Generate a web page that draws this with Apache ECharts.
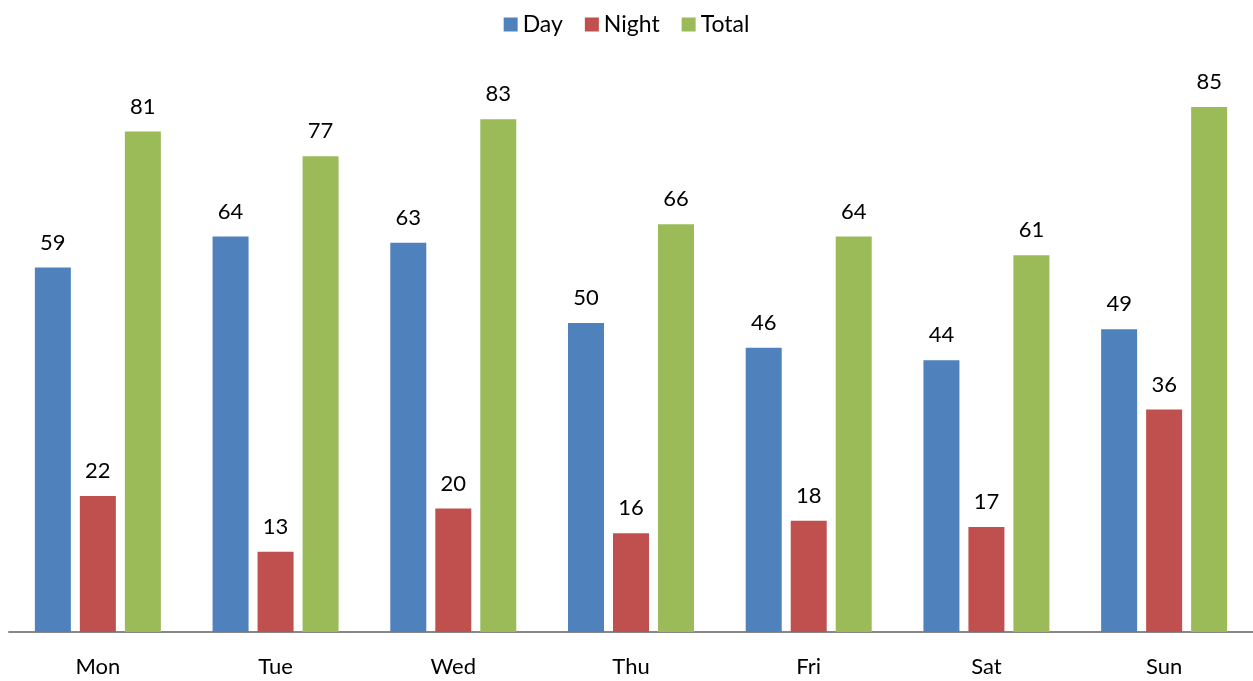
<!DOCTYPE html>
<html><head><meta charset="utf-8">
<script src="https://cdn.jsdelivr.net/npm/echarts@6/dist/echarts.min.js"></script>
<style>html,body{margin:0;padding:0;background:#fff}#c{width:1253px;height:681px}</style>
</head><body><div id="c"></div>
<script>
const categories = ['Mon','Tue','Wed','Thu','Fri','Sat','Sun'];
const daySeries = [59,64,63,50,46,44,49];
const nightSeries = [22,13,20,16,18,17,36];
const totalSeries = [81,77,83,66,64,61,85];
const colors = ['#4F81BD','#C0504D','#9BBB59'];
const font = 'Lato, "Open Sans", sans-serif';
const chart = echarts.init(document.getElementById('c'));
const lbl = {show:true, position:'top', distance:14, color:'#000', fontSize:22, fontFamily:font};
chart.setOption({
  animation:false,
  color: colors,
  legend:{top:8, left:'center', itemWidth:14, itemHeight:14, itemGap:22, icon:'rect',
    textStyle:{fontSize:23, fontFamily:font, color:'#000'}},
  grid:{left:9, right:0, top:76, bottom:49, containLabel:false},
  xAxis:{type:'category', data:categories,
    axisLine:{lineStyle:{color:'#888', width:2}}, axisTick:{show:false},
    axisLabel:{fontSize:22, fontFamily:font, color:'#000', margin:24}},
  yAxis:{type:'value', min:0, max:90, show:false, splitLine:{show:false}},
  series:[
    {name:'Day', type:'bar', data:daySeries, barWidth:36, barGap:'25%', barCategoryGap:'29%', label:lbl},
    {name:'Night', type:'bar', data:nightSeries, barWidth:36, barGap:'25%', label:lbl},
    {name:'Total', type:'bar', data:totalSeries, barWidth:36, barGap:'25%', label:lbl}
  ]
});
</script></body></html>
